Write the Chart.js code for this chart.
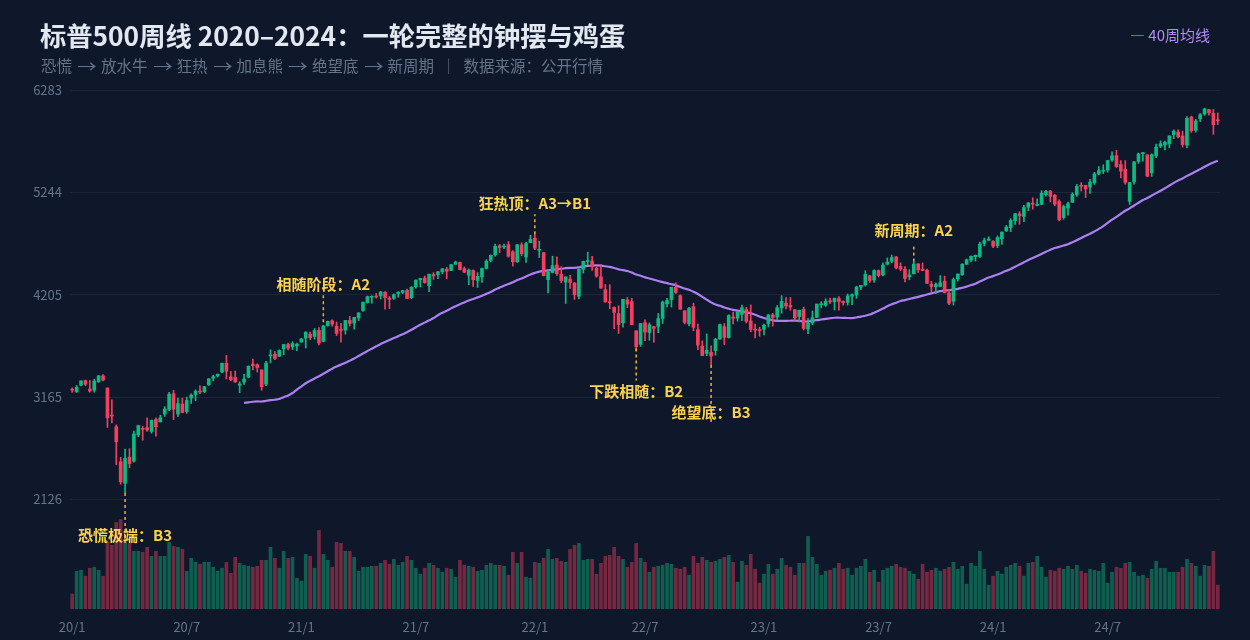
<!DOCTYPE html>
<html lang="zh-CN">
<head>
<meta charset="utf-8">
<title>标普500周线 2020–2024</title>
<script src="https://cdn.jsdelivr.net/npm/chart.js@4.4.1/dist/chart.umd.min.js"></script>
<style>
  html, body { margin: 0; padding: 0; background: #0f172a; }
  #wrap { position: relative; width: 1250px; height: 640px; background: #0f172a; }
  #chart { position: absolute; left: 0; top: 0; }
  .txt { position: absolute; line-height: 1; white-space: nowrap; font-family: "Noto Sans CJK SC", "Noto Sans", sans-serif; }
  #title { left: 40px; top: 22px; font-size: 26.3px; font-weight: 700; color: #e2e8f0; }
  #sub { left: 41px; top: 58px; font-size: 15.5px; color: #64748b; }
  #sub .ar { display: inline-block; width: 18px; margin: 0 5px 0 6px; text-align: center; transform: scaleX(1.25); }
  #legend { right: 40px; top: 27px; font-size: 15px; color: #b38cf3; }
</style>
</head>
<body>
<div id="wrap">
  <canvas id="chart" width="1250" height="640"></canvas>
  <div class="txt" id="title">标普500周线 2020–2024：一轮完整的钟摆与鸡蛋</div>
  <div class="txt" id="sub">恐慌<span class="ar">→</span>放水牛<span class="ar">→</span>狂热<span class="ar">→</span>加息熊<span class="ar">→</span>绝望底<span class="ar">→</span>新周期 &nbsp;｜&nbsp; 数据来源：公开行情</div>
  <div class="txt" id="legend">— 40周均线</div>
</div>
<script>
// 周K数据：2020-01-03 起每周五一根
const firstWeek = '2020-01-03';

const opens = [
  // 2020
  3240,3218,3285,3333,3247,3235,3319,3380,3257,2974,2863,2508,2290,2555,2514,2782,2845,2854,2816,2937,2914,2993,3038,3199,2993,3094,3018,
  3155,3191,3224,3219,3289,3357,3380,3419,3508,3370,3363,3285,3318,3368,3500,3494,3441,3296,3583,3600,3579,3654,3699,3675,3684,3723,
  // 2021
  3764,3803,3781,3842,3731,3892,3939,3885,3843,3845,3943,3916,3969,4045,4125,4178,4185,4192,4228,4169,4168,4216,4229,4248,4174,4285,
  4356,4373,4296,4410,4407,4438,4464,4451,4513,4532,4469,4402,4450,4349,4385,4471,4553,4610,4701,4689,4712,4640,4538,4710,4587,4733,
  // 2022
  4778,4655,4632,4357,4431,4506,4412,4332,4363,4323,4189,4462,4541,4547,4474,4386,4255,4130,4075,4013,3920,4151,4134,3838,3700,3920,
  3821,3880,3883,3965,4112,4155,4280,4195,4041,3909,4083,3849,3682,3609,3619,3638,3754,3880,3770,3977,3966,4005,4053,3939,3853,3843,
  // 2023
  3853,3911,3999,3978,4071,4119,4096,4052,3982,4055,3855,3917,3975,4102,4097,4137,4134,4166,4136,4126,4190,4201,4282,4305,4396,4355,
  4450,4405,4514,4543,4588,4491,4463,4386,4416,4518,4464,4453,4311,4284,4289,4342,4221,4139,4364,4406,4514,4555,4590,4593,4725,4758,
  // 2024
  4745,4703,4772,4853,4886,4957,5026,5000,5093,5131,5111,5123,5219,5257,5215,5150,4988,5084,5143,5221,5308,5315,5297,5341,5431,5459,
  5471,5572,5616,5526,5477,5152,5351,5557,5637,5624,5442,5615,5712,5726,5737,5830,5855,5816,5723,6008,5874,5992,6040,6083,6047,5974
];

const highs = [
  3258,3282,3330,3338,3333,3347,3385,3393,3259,3137,2883,2553,2637,2641,2819,2880,2867,2955,2932,2955,2981,3068,3212,3233,3155,3154,3165,
  3198,3238,3280,3272,3352,3387,3399,3509,3588,3425,3429,3320,3397,3482,3550,3502,3441,3529,3646,3628,3645,3699,3712,3727,3712,3760,
  3827,3826,3861,3870,3895,3937,3950,3928,3914,3944,3984,3975,4021,4130,4191,4194,4218,4238,4237,4187,4214,4234,4250,4261,4287,4356,
  4372,4394,4415,4429,4441,4468,4481,4513,4545,4536,4486,4466,4457,4429,4475,4559,4608,4718,4714,4718,4744,4652,4713,4731,4740,4808,
  4818,4749,4632,4453,4595,4590,4490,4386,4402,4327,4465,4546,4637,4593,4486,4513,4308,4307,4081,4091,4158,4177,4168,3838,3913,3950,
  3918,3880,4013,4140,4167,4280,4325,4203,4041,4077,4119,3906,3736,3806,3685,3762,3905,3912,4001,4028,4034,4100,4076,4101,3906,3875,
  3906,4003,4015,4094,4195,4176,4176,4053,4048,4079,3963,4039,4110,4133,4164,4169,4170,4186,4143,4212,4213,4291,4299,4448,4400,4458,
  4456,4528,4578,4607,4595,4528,4490,4458,4541,4519,4527,4465,4340,4324,4398,4393,4255,4374,4415,4520,4567,4596,4609,4739,4779,4793,
  4754,4802,4842,4907,4975,5030,5048,5111,5140,5189,5179,5261,5265,5264,5222,5168,5114,5146,5240,5325,5342,5316,5375,5447,5506,5523,
  5570,5655,5670,5566,5566,5345,5556,5643,5651,5626,5636,5733,5767,5765,5822,5878,5878,5865,6012,6018,5985,6044,6099,6086,6085,6050
];

const lows = [
  3213,3212,3277,3280,3214,3214,3315,3328,2856,2902,2478,2280,2192,2447,2505,2762,2727,2815,2798,2767,2910,2969,3026,2936,2965,3004,3000,
  3101,3128,3200,3209,3284,3329,3369,3413,3349,3330,3313,3209,3294,3360,3441,3419,3234,3280,3512,3545,3576,3594,3645,3647,3636,3723,
  3663,3749,3753,3694,3725,3884,3885,3789,3723,3804,3886,3854,3941,4035,4118,4118,4170,4160,4057,4062,4156,4179,4216,4164,4164,4272,
  4282,4321,4234,4360,4368,4417,4367,4448,4513,4457,4428,4305,4288,4278,4329,4465,4537,4595,4631,4672,4585,4495,4532,4600,4531,4733,
  4662,4582,4395,4222,4425,4401,4327,4115,4267,4157,4161,4424,4507,4450,4381,4268,4127,4062,3859,3811,3875,4073,3900,3637,3680,3738,
  3742,3721,3818,3913,4080,4079,4218,4057,3907,3887,3838,3647,3584,3585,3491,3590,3753,3698,3764,3907,3937,3940,3918,3828,3765,3783,
  3795,3877,3886,3950,4016,4060,4046,3943,3928,3846,3808,3898,3970,4070,4086,4114,4049,4048,4099,4098,4103,4167,4256,4292,4328,4328,
  4385,4394,4507,4528,4467,4448,4335,4356,4416,4431,4449,4316,4235,4216,4283,4222,4104,4099,4343,4402,4511,4537,4546,4584,4699,4751,
  4683,4682,4714,4845,4844,4918,4920,4946,5057,5073,5105,5118,5204,5146,5107,4954,4970,5011,5142,5203,5257,5191,5234,5324,5420,5434,
  5448,5557,5497,5390,5327,5120,5328,5538,5561,5402,5406,5596,5698,5674,5696,5788,5796,5703,5696,5853,5855,5963,6026,6027,5833,5932
];

const closes = [
  3235,3265,3330,3295,3226,3328,3380,3338,2954,2972,2711,2305,2541,2489,2790,2875,2837,2831,2930,2864,2955,3044,3194,3041,3098,3009,3130,
  3185,3225,3216,3271,3351,3373,3397,3508,3427,3341,3319,3298,3348,3477,3484,3465,3270,3509,3585,3558,3638,3699,3663,3709,3703,3756,
  3825,3768,3841,3714,3887,3934,3907,3811,3842,3943,3913,3975,4020,4129,4185,4180,4181,4233,4174,4156,4204,4230,4247,4166,4281,4352,
  4370,4327,4412,4395,4437,4468,4442,4509,4535,4459,4433,4455,4357,4391,4471,4545,4605,4697,4683,4698,4595,4538,4712,4620,4725,4766,
  4677,4662,4398,4432,4500,4419,4349,4385,4329,4204,4463,4543,4546,4488,4393,4272,4132,4123,4024,3901,4158,4109,3901,3675,3912,3825,
  3899,3863,3962,4130,4145,4280,4228,4057,3924,4067,3873,3693,3586,3640,3583,3752,3901,3771,3993,3965,4026,4072,3934,3852,3845,3840,
  3895,3999,3973,4071,4136,4090,4079,3970,4046,3862,3917,3971,4109,4105,4138,4133,4169,4136,4124,4192,4205,4282,4299,4410,4348,4450,
  4399,4505,4536,4582,4478,4464,4370,4406,4516,4457,4450,4320,4288,4309,4327,4224,4117,4358,4415,4514,4559,4595,4604,4719,4755,4770,
  4697,4784,4840,4891,4959,5027,5006,5089,5137,5124,5117,5234,5254,5204,5123,4967,5100,5128,5223,5303,5305,5278,5347,5431,5465,5460,
  5567,5615,5505,5459,5346,5344,5554,5635,5648,5408,5626,5703,5738,5751,5815,5865,5808,5729,5995,5870,5969,6032,6090,6051,5931,5971
];

// 周成交量（相对值）
const volumes = [
  15,38,39,33,41,42,39,33,67,64,87,90,70,66,58,58,57,62,53,58,53,53,67,63,62,60,38,
  51,47,45,47,47,42,38,41,47,36,52,46,44,43,42,43,49,49,62,51,41,58,51,52,31,28,
  55,53,41,79,55,49,42,67,66,58,58,52,38,42,42,43,43,46,49,45,50,44,47,53,49,41,
  35,41,46,44,41,37,41,40,32,49,44,43,42,38,39,44,46,44,44,43,34,57,46,57,32,31,
  47,46,51,60,50,51,48,47,60,64,66,49,50,50,35,46,53,54,62,53,50,42,47,66,51,47,
  37,42,43,44,46,45,41,40,42,34,53,46,52,49,47,48,50,52,54,47,27,48,44,55,40,26,
  35,45,35,40,51,44,42,34,46,46,73,52,45,34,38,39,41,46,40,41,34,41,43,50,37,39,
  27,39,41,43,45,42,41,38,35,30,45,37,39,41,38,40,42,47,40,43,25,46,43,58,40,24,
  33,38,35,42,44,46,43,33,46,47,53,42,32,39,38,41,40,43,40,44,38,36,40,39,38,46,
  26,37,42,41,46,47,37,33,34,31,40,48,41,41,37,37,37,42,50,46,43,33,44,43,58,24
];

const priceTicks = [2126, 3165, 4205, 5244, 6283];

// 标注：第几根K线、文字、挂在最高/最低点
const notes = [
  { index: 12,  text: '恐慌极端：B3',  side: 'low',  textDy: 42,  line: [0, 50] },
  { index: 57,  text: '相随阶段：A2',  side: 'high', textDy: -41, line: [-3, -32] },
  { index: 105, text: '狂热顶：A3→B1', side: 'high', textDy: -31, line: [0, -20] },
  { index: 128, text: '下跌相随：B2',  side: 'low',  textDy: 41,  line: [-2, 30] },
  { index: 145, text: '绝望底：B3',    side: 'low',  textDy: 47,  line: [0, 58] },
  { index: 191, text: '新周期：A2',    side: 'high', textDy: -31, line: [0, -18] }
];

const UP = '#10b981';
const DOWN = '#f43f5e';
const UP_VOL = 'rgba(16, 185, 129, 0.45)';
const DOWN_VOL = 'rgba(244, 63, 94, 0.45)';

// 周日期（类目轴）
const start = new Date(firstWeek + 'T00:00:00Z');
const weeks = closes.map((_, i) => new Date(start.getTime() + i * 7 * 86400000));
const labels = weeks.map(d => d.toISOString().slice(0, 10));

const isUp = closes.map((c, i) => c >= opens[i]);

// 40周均线
const ma40 = closes.map((c, i) => {
  if (i < 39) return null;
  let sum = 0;
  for (let k = i - 39; k <= i; k++) sum += closes[k];
  return sum / 40;
});

function tickLabel(value, i) {
  const d = weeks[i];
  const m = d.getUTCMonth();
  const isNewMonth = i === 0 || m !== weeks[i - 1].getUTCMonth();
  if (isNewMonth && (m === 0 || m === 6)) {
    return String(d.getUTCFullYear()).slice(2) + '/' + (m + 1);
  }
  return '';
}

const notePlugin = {
  id: 'notes',
  afterDatasetsDraw(chart) {
    const { ctx, scales } = chart;
    ctx.save();
    notes.forEach(n => {
      const x = scales.x.getPixelForValue(n.index);
      const v = n.side === 'high' ? highs[n.index] : lows[n.index];
      const y = scales.y.getPixelForValue(v);
      ctx.setLineDash([3, 3]);
      ctx.strokeStyle = '#f0b429';
      ctx.lineWidth = 1.5;
      ctx.beginPath();
      ctx.moveTo(x, y + n.line[0]);
      ctx.lineTo(x, y + n.line[1]);
      ctx.stroke();
      ctx.setLineDash([]);
      ctx.font = 'bold 15px "Noto Sans CJK SC", sans-serif';
      ctx.fillStyle = '#fcd34d';
      ctx.textAlign = 'center';
      ctx.textBaseline = 'middle';
      ctx.fillText(n.text, x, y + n.textDy);
    });
    ctx.restore();
  }
};

const ctx = document.getElementById('chart').getContext('2d');
new Chart(ctx, {
  type: 'bar',
  data: {
    labels: labels,
    datasets: [
      {
        label: '实体',
        data: opens.map((o, i) => [o, closes[i]]),
        backgroundColor: isUp.map(u => u ? UP : DOWN),
        barThickness: 3,
        minBarLength: 1,
        grouped: false,
        yAxisID: 'y',
        order: 1
      },
      {
        label: '影线',
        data: lows.map((l, i) => [l, highs[i]]),
        backgroundColor: isUp.map(u => u ? UP : DOWN),
        barThickness: 1,
        grouped: false,
        yAxisID: 'y',
        order: 2
      },
      {
        type: 'line',
        label: '40周均线',
        data: ma40,
        borderColor: '#ac7ff2',
        borderWidth: 2.2,
        pointRadius: 0,
        tension: 0.3,
        yAxisID: 'y',
        order: 3
      },
      {
        label: '成交量',
        data: volumes,
        backgroundColor: isUp.map(u => u ? UP_VOL : DOWN_VOL),
        barThickness: 3,
        grouped: false,
        yAxisID: 'y2',
        order: 4
      }
    ]
  },
  options: {
    responsive: false,
    animation: false,
    layout: { padding: { top: 90, right: 30, left: 0, bottom: 0 } },
    plugins: {
      legend: { display: false },
      tooltip: { enabled: false }
    },
    scales: {
      x: {
        offset: true,
        grid: { display: false },
        border: { display: false },
        ticks: {
          autoSkip: false,
          maxRotation: 0,
          color: '#64748b',
          font: { size: 13, family: '"Noto Sans CJK SC", sans-serif' },
          padding: 2,
          callback: tickLabel
        },
        afterFit: s => { s.height = 31; }
      },
      y: {
        position: 'left',
        min: 1013,
        max: 6283,
        grid: { color: 'rgba(148, 163, 184, 0.1)', drawTicks: false },
        border: { display: false },
        ticks: {
          color: '#64748b',
          font: { size: 13, family: '"Noto Sans CJK SC", sans-serif' },
          padding: 8,
          callback: v => Math.round(v)
        },
        afterBuildTicks: s => { s.ticks = priceTicks.map(v => ({ value: v })); },
        afterFit: s => { s.width = 70; }
      },
      y2: {
        display: false,
        min: 0,
        max: Math.max(...volumes) * 5.8
      }
    }
  },
  plugins: [notePlugin]
});
</script>
</body>
</html>
